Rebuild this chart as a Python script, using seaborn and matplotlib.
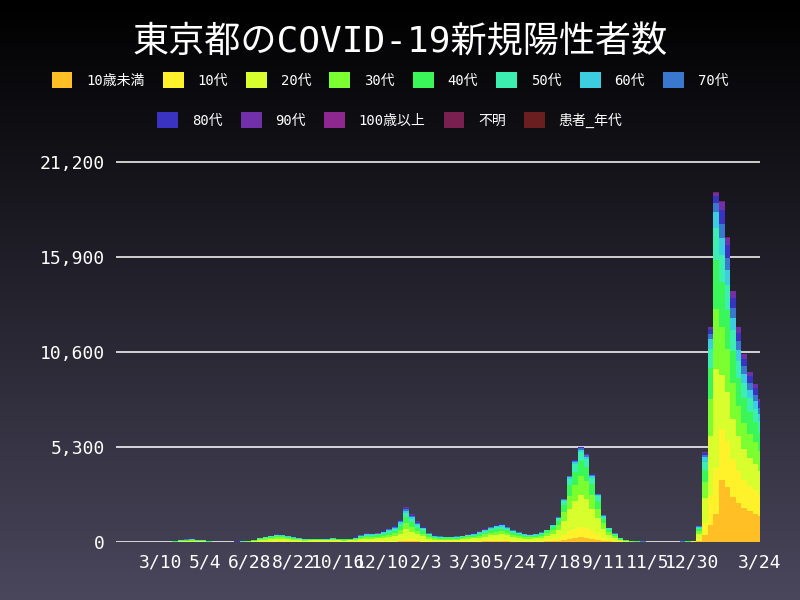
import numpy as np
import pandas as pd
import matplotlib
matplotlib.use("Agg")
import matplotlib.pyplot as plt
import seaborn as sns
from matplotlib.patches import Patch

title = "東京都のCOVID-19新規陽性者数"
ages = ["10歳未満", "10代", "20代", "30代", "40代", "50代", "60代",
        "70代", "80代", "90代", "100歳以上", "不明", "患者_年代"]
colors = ["#FFBF25", "#FFF22A", "#D8FF2D", "#7CFF30", "#3AF658", "#3CEFB0",
          "#3CCDE0", "#3A78D0", "#3A32C0", "#7030A8", "#8E2890", "#7A2050",
          "#6A1E20"]

yticks = [0, 5300, 10600, 15900, 21200]
tick_days = [55, 110, 165, 220, 275, 330, 385, 440, 495, 550, 605, 660, 715, 799]
tick_labels = ["3/10", "5/4", "6/28", "8/22", "10/16", "12/10", "2/3", "3/30",
               "5/24", "7/18", "9/11", "11/5", "12/30", "3/24"]

# daily new cases, one value per week (from 2020-01-15)
weekly_total = [
    0, 1, 1, 2, 3, 4, 6, 6, 10, 15,
    50, 110, 160, 170, 120, 110, 50, 20, 10, 15,
    20, 30, 40, 55, 120, 240, 300, 360, 420, 400,
    330, 270, 210, 170, 190, 190, 190, 200, 210, 190,
    180, 190, 260, 400, 480, 470, 530, 600, 740, 900,
    1250, 1950, 1550, 1150, 850, 520, 370, 340, 300, 300,
    320, 360, 420, 480, 590, 700, 860, 950, 1000, 860,
    680, 560, 460, 420, 470, 570, 690, 950, 1400, 2400,
    3700, 4600, 5300, 4900, 3800, 2700, 1500, 800, 480, 240,
    130, 60, 40, 30, 25, 25, 25, 25, 25, 25,
    30, 40, 80, 900, 5000, 12000, 19500, 19000, 17000, 14000,
    12000, 10500, 9500, 8800, 8000,
]

# age mix (%) per period, period_start = first week of each period
period_start = [0, 23, 42, 58, 76, 89, 103, 107]
shares_2020_spring = [1, 3, 26, 20, 16, 13, 8, 6, 4, 1.5, 0.05, 0.5, 1]
shares_2020_summer = [2, 5, 38, 22, 13, 9, 5, 3, 2, 0.8, 0.02, 0.2, 0]
shares_2020_winter = [3, 6, 28, 18, 15, 12, 7, 5, 4, 1.5, 0.05, 0.1, 0]
shares_2021_spring = [4, 8, 30, 18, 15, 11, 6, 4, 2.5, 1, 0, 0.1, 0]
shares_2021_summer = [5, 11, 33, 20, 16, 9, 3, 1.5, 0.8, 0.3, 0, 0.1, 0]
shares_2021_autumn = [6, 9, 25, 16, 15, 12, 7, 5, 3, 1.5, 0, 0.2, 0]
shares_2022_jan = [8, 13, 28, 17, 14, 9, 4.5, 2.5, 2, 1, 0.02, 0.1, 0]
shares_2022_feb = [18, 15, 16, 14, 13, 8, 5, 4, 4, 2.5, 0.05, 0.1, 0]
shares = [shares_2020_spring, shares_2020_summer, shares_2020_winter,
          shares_2021_spring, shares_2021_summer, shares_2021_autumn,
          shares_2022_jan, shares_2022_feb]

rows = []
for w, tot in enumerate(weekly_total):
    p = np.searchsorted(period_start, w, side="right") - 1
    s = np.array(shares[p], dtype=float)
    for age, v in zip(ages, tot * s / s.sum()):
        rows.append({"day": w * 7 + 3, "age": age, "cases": v})
df = pd.DataFrame(rows)

sns.set_theme(style="dark")
plt.rcParams["font.family"] = ["DejaVu Sans Mono", "Noto Sans CJK JP"]

fig = plt.figure(figsize=(8, 6), dpi=100)

# gradient background
bg = fig.add_axes([0, 0, 1, 1], zorder=-10)
grad = np.linspace(0, 1, 256).reshape(-1, 1)
top = np.array([0, 0, 0]) / 255
bot = np.array([74, 70, 92]) / 255
img = top + grad[..., None] * (bot - top)
bg.imshow(np.repeat(img, 2, axis=1), aspect="auto", extent=[0, 1, 0, 1])
bg.axis("off")

ax = fig.add_axes([116 / 800, 58 / 600, 644 / 800, 387.2 / 600])
ax.set_facecolor("none")
sns.histplot(data=df, x="day", weights="cases", hue="age",
             hue_order=ages[::-1], multiple="stack", binwidth=7,
             binrange=(-0.5, 804.5), palette=dict(zip(ages, colors)),
             linewidth=0, alpha=1, legend=False, ax=ax)

ax.set_xlim(-0.5, 799.5)
ax.set_ylim(0, 21600)
ax.set_yticks(yticks)
ax.set_yticklabels([f"{t:,}" for t in yticks])
ax.set_xticks(tick_days)
ax.set_xticklabels(tick_labels)
ax.tick_params(colors="white", labelsize=13, length=0, pad=8)
ax.grid(axis="y", color="white", linewidth=1.3, alpha=0.85)
ax.grid(axis="x", visible=False)
ax.set_axisbelow(True)
ax.set_xlabel("")
ax.set_ylabel("")
for sp in ax.spines.values():
    sp.set_visible(False)

fig.text(0.5, 0.93, title, color="white", fontsize=26, ha="center", va="center")

handles = [Patch(facecolor=c, edgecolor="none") for c in colors]
leg_kw = dict(frameon=False, handlelength=1.5, handleheight=1.5,
              handletextpad=1.0, columnspacing=1.3, labelcolor="white",
              prop={"size": 10}, loc="center")
fig.legend(handles[:8], ages[:8], ncol=8, bbox_to_anchor=(0.4875, 1 - 80 / 600), **leg_kw)
fig.legend(handles[8:], ages[8:], ncol=5, bbox_to_anchor=(0.4875, 1 - 120 / 600), **leg_kw)

fig.savefig("out.png", dpi=100)
